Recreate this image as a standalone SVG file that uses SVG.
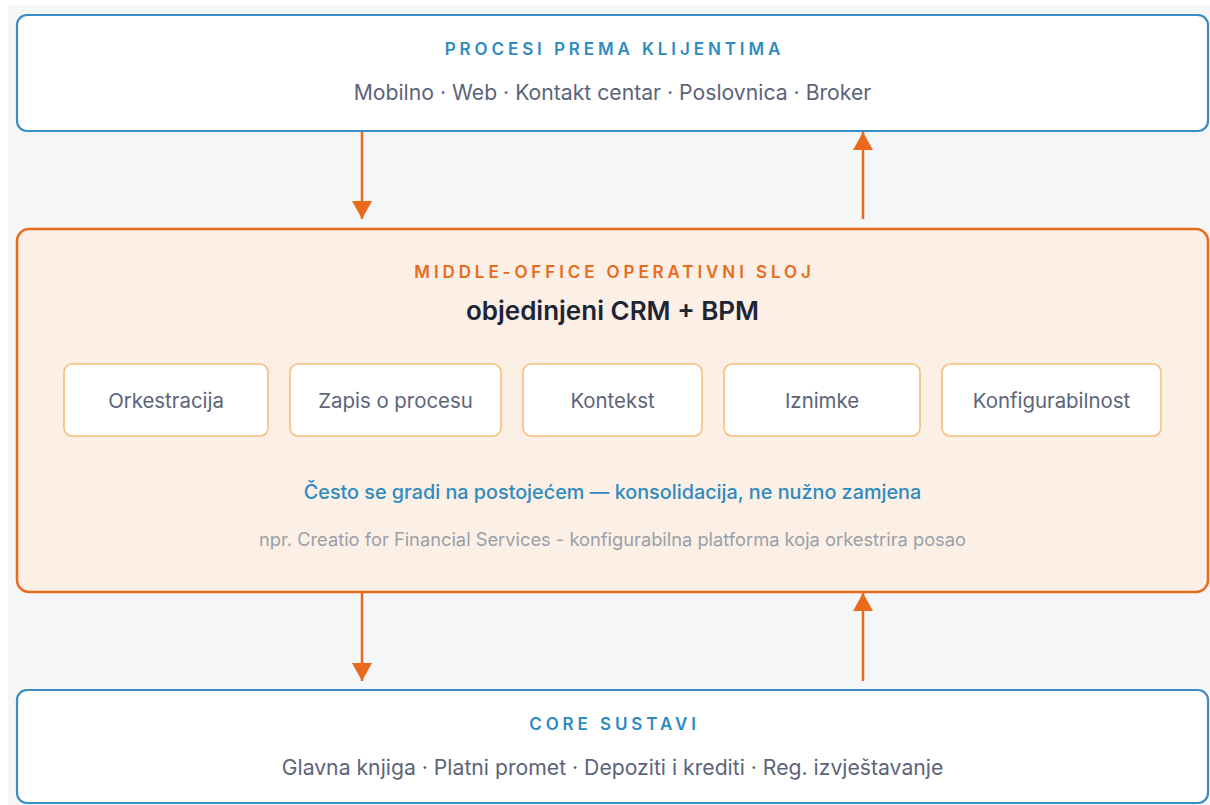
<svg xmlns="http://www.w3.org/2000/svg" width="1210" height="805" viewBox="0 0 1210 805">
<defs>
<style>
.bg{fill:#f4f6f8}
.outer-blue{fill:#ffffff;stroke:#3a8dc2;stroke-width:2.2}
.outer-orange{fill:#fbefe6;stroke:#e96a1b;stroke-width:2.5}
.inner{fill:#ffffff;stroke:#f6c07a;stroke-width:1.6}
.cap{font-family:Inter,"Liberation Sans",sans-serif;font-size:17px;font-weight:600;letter-spacing:3.9px;text-anchor:middle}
.sub{font-family:Inter,"Liberation Sans",sans-serif;font-size:21.2px;fill:#5c6479;text-anchor:middle}
.lbl{font-family:Inter,"Liberation Sans",sans-serif;font-size:20.4px;fill:#5c6479;text-anchor:middle}
.conn{stroke:#e96a1b;stroke-width:2.5;fill:none}
</style>
<marker id="ah" viewBox="0 0 18 20" markerWidth="18" markerHeight="20" refX="18" refY="10" orient="auto" markerUnits="userSpaceOnUse">
<path d="M0,0 L18,10 L0,20 Z" fill="#e96a1b"/>
</marker>
</defs>
<rect x="0" y="0" width="1210" height="805" fill="#ffffff"/>
<rect class="bg" x="8" y="5" width="1202" height="800"/>

<g id="top">
<rect class="outer-blue" x="17" y="15" width="1191" height="116" rx="10"/>
<text class="cap" x="614.5" y="55" fill="#2e8bc0">PROCESI PREMA KLIJENTIMA</text>
<text class="sub" x="612.5" y="100">Mobilno · Web · Kontakt centar · Poslovnica · Broker</text>
</g>

<g id="middle">
<rect class="outer-orange" x="17" y="229" width="1191" height="363" rx="12"/>
<text class="cap" x="614.5" y="278" fill="#e96a1b">MIDDLE-OFFICE OPERATIVNI SLOJ</text>
<text x="612.5" y="320" font-family="Inter,'Liberation Sans',sans-serif" font-size="26" font-weight="600" fill="#1d2533" text-anchor="middle">objedinjeni CRM + BPM</text>
<text x="612.5" y="499" font-family="Inter,'Liberation Sans',sans-serif" font-size="19.8" font-weight="500" fill="#2e8bc0" text-anchor="middle">Često se gradi na postojećem — konsolidacija, ne nužno zamjena</text>
<text x="612.5" y="546" font-family="Inter,'Liberation Sans',sans-serif" font-size="18.3" fill="#9a9fa9" text-anchor="middle">npr. Creatio for Financial Services - konfigurabilna platforma koja orkestrira posao</text>
</g>

<g id="orkestracija">
<rect class="inner" x="64" y="364" width="204" height="72" rx="8"/>
<text class="lbl" x="166" y="408">Orkestracija</text>
</g>
<g id="zapis">
<rect class="inner" x="290" y="364" width="211" height="72" rx="8"/>
<text class="lbl" x="395.5" y="408">Zapis o procesu</text>
</g>
<g id="kontekst">
<rect class="inner" x="523" y="364" width="179" height="72" rx="8"/>
<text class="lbl" x="612.5" y="408">Kontekst</text>
</g>
<g id="iznimke">
<rect class="inner" x="724" y="364" width="196" height="72" rx="8"/>
<text class="lbl" x="822" y="408">Iznimke</text>
</g>
<g id="konfigurabilnost">
<rect class="inner" x="942" y="364" width="219" height="72" rx="8"/>
<text class="lbl" x="1051.5" y="408">Konfigurabilnost</text>
</g>

<g id="bottom">
<rect class="outer-blue" x="17" y="690" width="1191" height="113" rx="10"/>
<text class="cap" x="614.5" y="730" fill="#2e8bc0">CORE SUSTAVI</text>
<text class="sub" x="612.5" y="775">Glavna knjiga · Platni promet · Depoziti i krediti · Reg. izvještavanje</text>
</g>

<g id="connectors">
<line class="conn" x1="362" y1="132" x2="362" y2="219" marker-end="url(#ah)"/>
<line class="conn" x1="863" y1="219" x2="863" y2="132" marker-end="url(#ah)"/>
<line class="conn" x1="362" y1="593" x2="362" y2="681" marker-end="url(#ah)"/>
<line class="conn" x1="863" y1="681" x2="863" y2="593" marker-end="url(#ah)"/>
</g>
</svg>
